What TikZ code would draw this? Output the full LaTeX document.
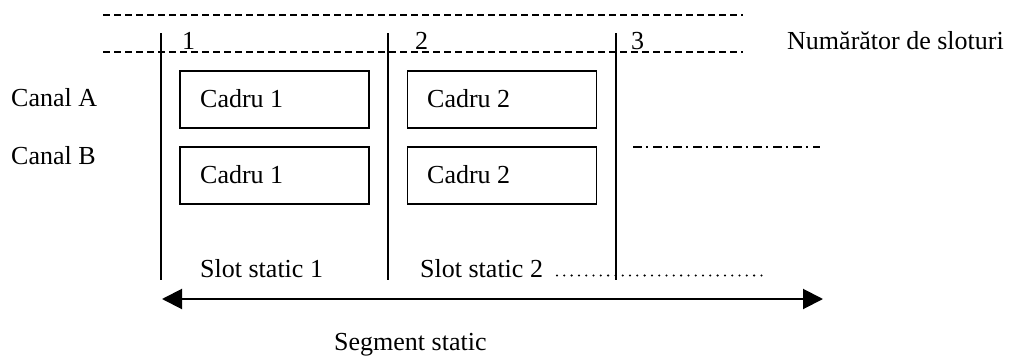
\documentclass[tikz,border=0pt]{standalone}
\usepackage{fontspec}
\setmainfont{Liberation Serif}
\usetikzlibrary{arrows.meta}
\begin{document}
\begin{tikzpicture}[x=1pt,y=-1pt,
  txt/.style={anchor=base west,inner sep=0pt,font=\fontsize{26}{30}\selectfont},
  frame/.style={draw,line width=1.1pt,minimum width=189pt,minimum height=57pt,inner sep=0pt},
  vline/.style={line width=1.1pt},
  dashline/.style={line width=1.1pt,dash pattern=on 7pt off 4pt},
  dashdotline/.style={line width=1.2pt,dash pattern=on 9pt off 4pt on 2pt off 5pt},
  dotline/.style={line width=2.3pt,line cap=round,dash pattern=on 0pt off 7.3pt},
  segarrow/.style={line width=2pt,{Triangle[length=20pt,width=20pt]}-{Triangle[length=20pt,width=20pt]}}]
\useasboundingbox (0,0) rectangle (1012,356);
% slot counter dashed lines
\coordinate (t1) at (103,15); \coordinate (t2) at (743,15);
\coordinate (m1) at (103,52); \coordinate (m2) at (743,52);
\draw[dashline] (t1) -- (t2);
\draw[dashline] (m1) -- (m2);
% vertical lines
\coordinate (v1a) at (161,33); \coordinate (v1b) at (161,280);
\coordinate (v2a) at (388,33); \coordinate (v2b) at (388,280);
\coordinate (v3a) at (616,33); \coordinate (v3b) at (616,280);
\draw[vline] (v1a) -- (v1b);
\draw[vline] (v2a) -- (v2b);
\draw[vline] (v3a) -- (v3b);
% numbers
\node[txt] (n1) at (182,49) {1};
\node[txt] (n2) at (415,49) {2};
\node[txt] (n3) at (631,49) {3};
\node[txt] (cnt) at (787,49) {Numărător de sloturi};
% channels
\node[txt] (ca) at (11,106) {Canal A};
\node[txt] (cb) at (11,164) {Canal B};
% frames
\node[frame] (a1) at (274.5,99.5) {};
\node[frame] (a2) at (502,99.5) {};
\node[frame] (b1) at (274.5,175.5) {};
\node[frame] (b2) at (502,175.5) {};
\node[txt] (a1t) at (200,107) {Cadru 1};
\node[txt] (a2t) at (427,107) {Cadru 2};
\node[txt] (b1t) at (200,183) {Cadru 1};
\node[txt] (b2t) at (427,183) {Cadru 2};
% dash-dot continuation
\coordinate (dd1) at (633,147); \coordinate (dd2) at (820,147);
\draw[dashdotline] (dd1) -- (dd2);
% slot labels
\node[txt] (s1) at (200,277) {Slot static 1};
\node[txt] (s2) at (420,277) {Slot static 2};
\coordinate (do1) at (557,275.5); \coordinate (do2) at (764,275.5);
\draw[dotline] (do1) -- (do2);
% segment arrow
\coordinate (ar1) at (162,299); \coordinate (ar2) at (823,299);
\draw[segarrow] (ar1) -- (ar2);
\node[txt] (seg) at (334,350) {Segment static};
\end{tikzpicture}
\end{document}
